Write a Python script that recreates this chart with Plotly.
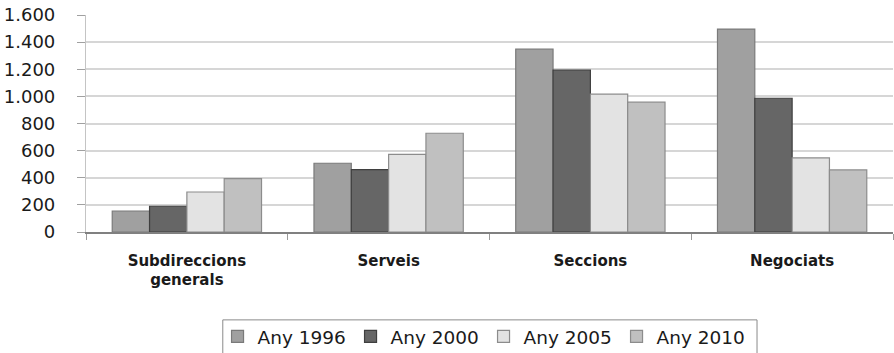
import plotly.graph_objects as go

categories = ["Subdireccions<br>generals", "Serveis", "Seccions", "Negociats"]
series_names = ["Any 1996", "Any 2000", "Any 2005", "Any 2010"]
values_1996 = [155, 507, 1348, 1496]
values_2000 = [190, 460, 1193, 986]
values_2005 = [295, 573, 1016, 546]
values_2010 = [393, 728, 957, 458]
y_ticks = [0, 200, 400, 600, 800, 1000, 1200, 1400, 1600]

series_values = [values_1996, values_2000, values_2005, values_2010]
fill_colors = ["#a0a0a0", "#666666", "#e3e3e3", "#c0c0c0"]
edge_colors = ["#7a7a7a", "#3f3f3f", "#8c8c8c", "#8c8c8c"]

fig = go.Figure()
for name, vals, fc, ec in zip(series_names, series_values, fill_colors, edge_colors):
    fig.add_trace(go.Bar(
        x=categories, y=vals, name=name,
        marker=dict(color=fc, line=dict(color=ec, width=1.2)),
    ))

fig.update_layout(
    width=894, height=353,
    margin=dict(l=86, r=1, t=15, b=121, autoexpand=False),
    paper_bgcolor="white", plot_bgcolor="white",
    barmode="group", bargap=0.26, bargroupgap=0,
    separators=",.",
    font=dict(family="DejaVu Sans", color="#1a1a1a"),
    legend=dict(
        orientation="h", x=0.163, xanchor="left", y=-0.571, yanchor="bottom",
        font=dict(size=18.5, family="DejaVu Sans", color="#1a1a1a"),
        borderwidth=0, bgcolor="rgba(0,0,0,0)",
        entrywidth=88, entrywidthmode="pixels",
        traceorder="normal",
    ),
    showlegend=True,
    # legend frame, open at the bottom edge of the page
    shapes=[dict(
        type="rect", xref="paper", yref="paper",
        x0=0.1695, x1=0.8315, y0=-0.70, y1=-0.405,
        line=dict(color="#8a8a8a", width=1), fillcolor="rgba(0,0,0,0)",
        layer="below",
    )],
)

fig.update_xaxes(
    type="category", tickson="boundaries", ticks="outside", ticklen=6,
    tickcolor="#9a9a9a", showline=True, linecolor="#808080", linewidth=1.5,
    tickfont=dict(size=15, family="DejaVu Sans", color="#1a1a1a", weight="bold"),
    ticklabelstandoff=14,
    showgrid=False,
)
fig.update_yaxes(
    range=[0, 1600], tickvals=y_ticks, tickformat=",d",
    ticks="outside", ticklen=8, tickcolor="#a0a0a0",
    showline=True, linecolor="#c4c4c4", linewidth=1.2,
    showgrid=True, gridcolor="#d6d6d6", gridwidth=1.6,
    tickfont=dict(size=18, family="DejaVu Sans", color="#1a1a1a"),
    ticklabelstandoff=18, zeroline=False,
)

fig.write_html("out.html")
